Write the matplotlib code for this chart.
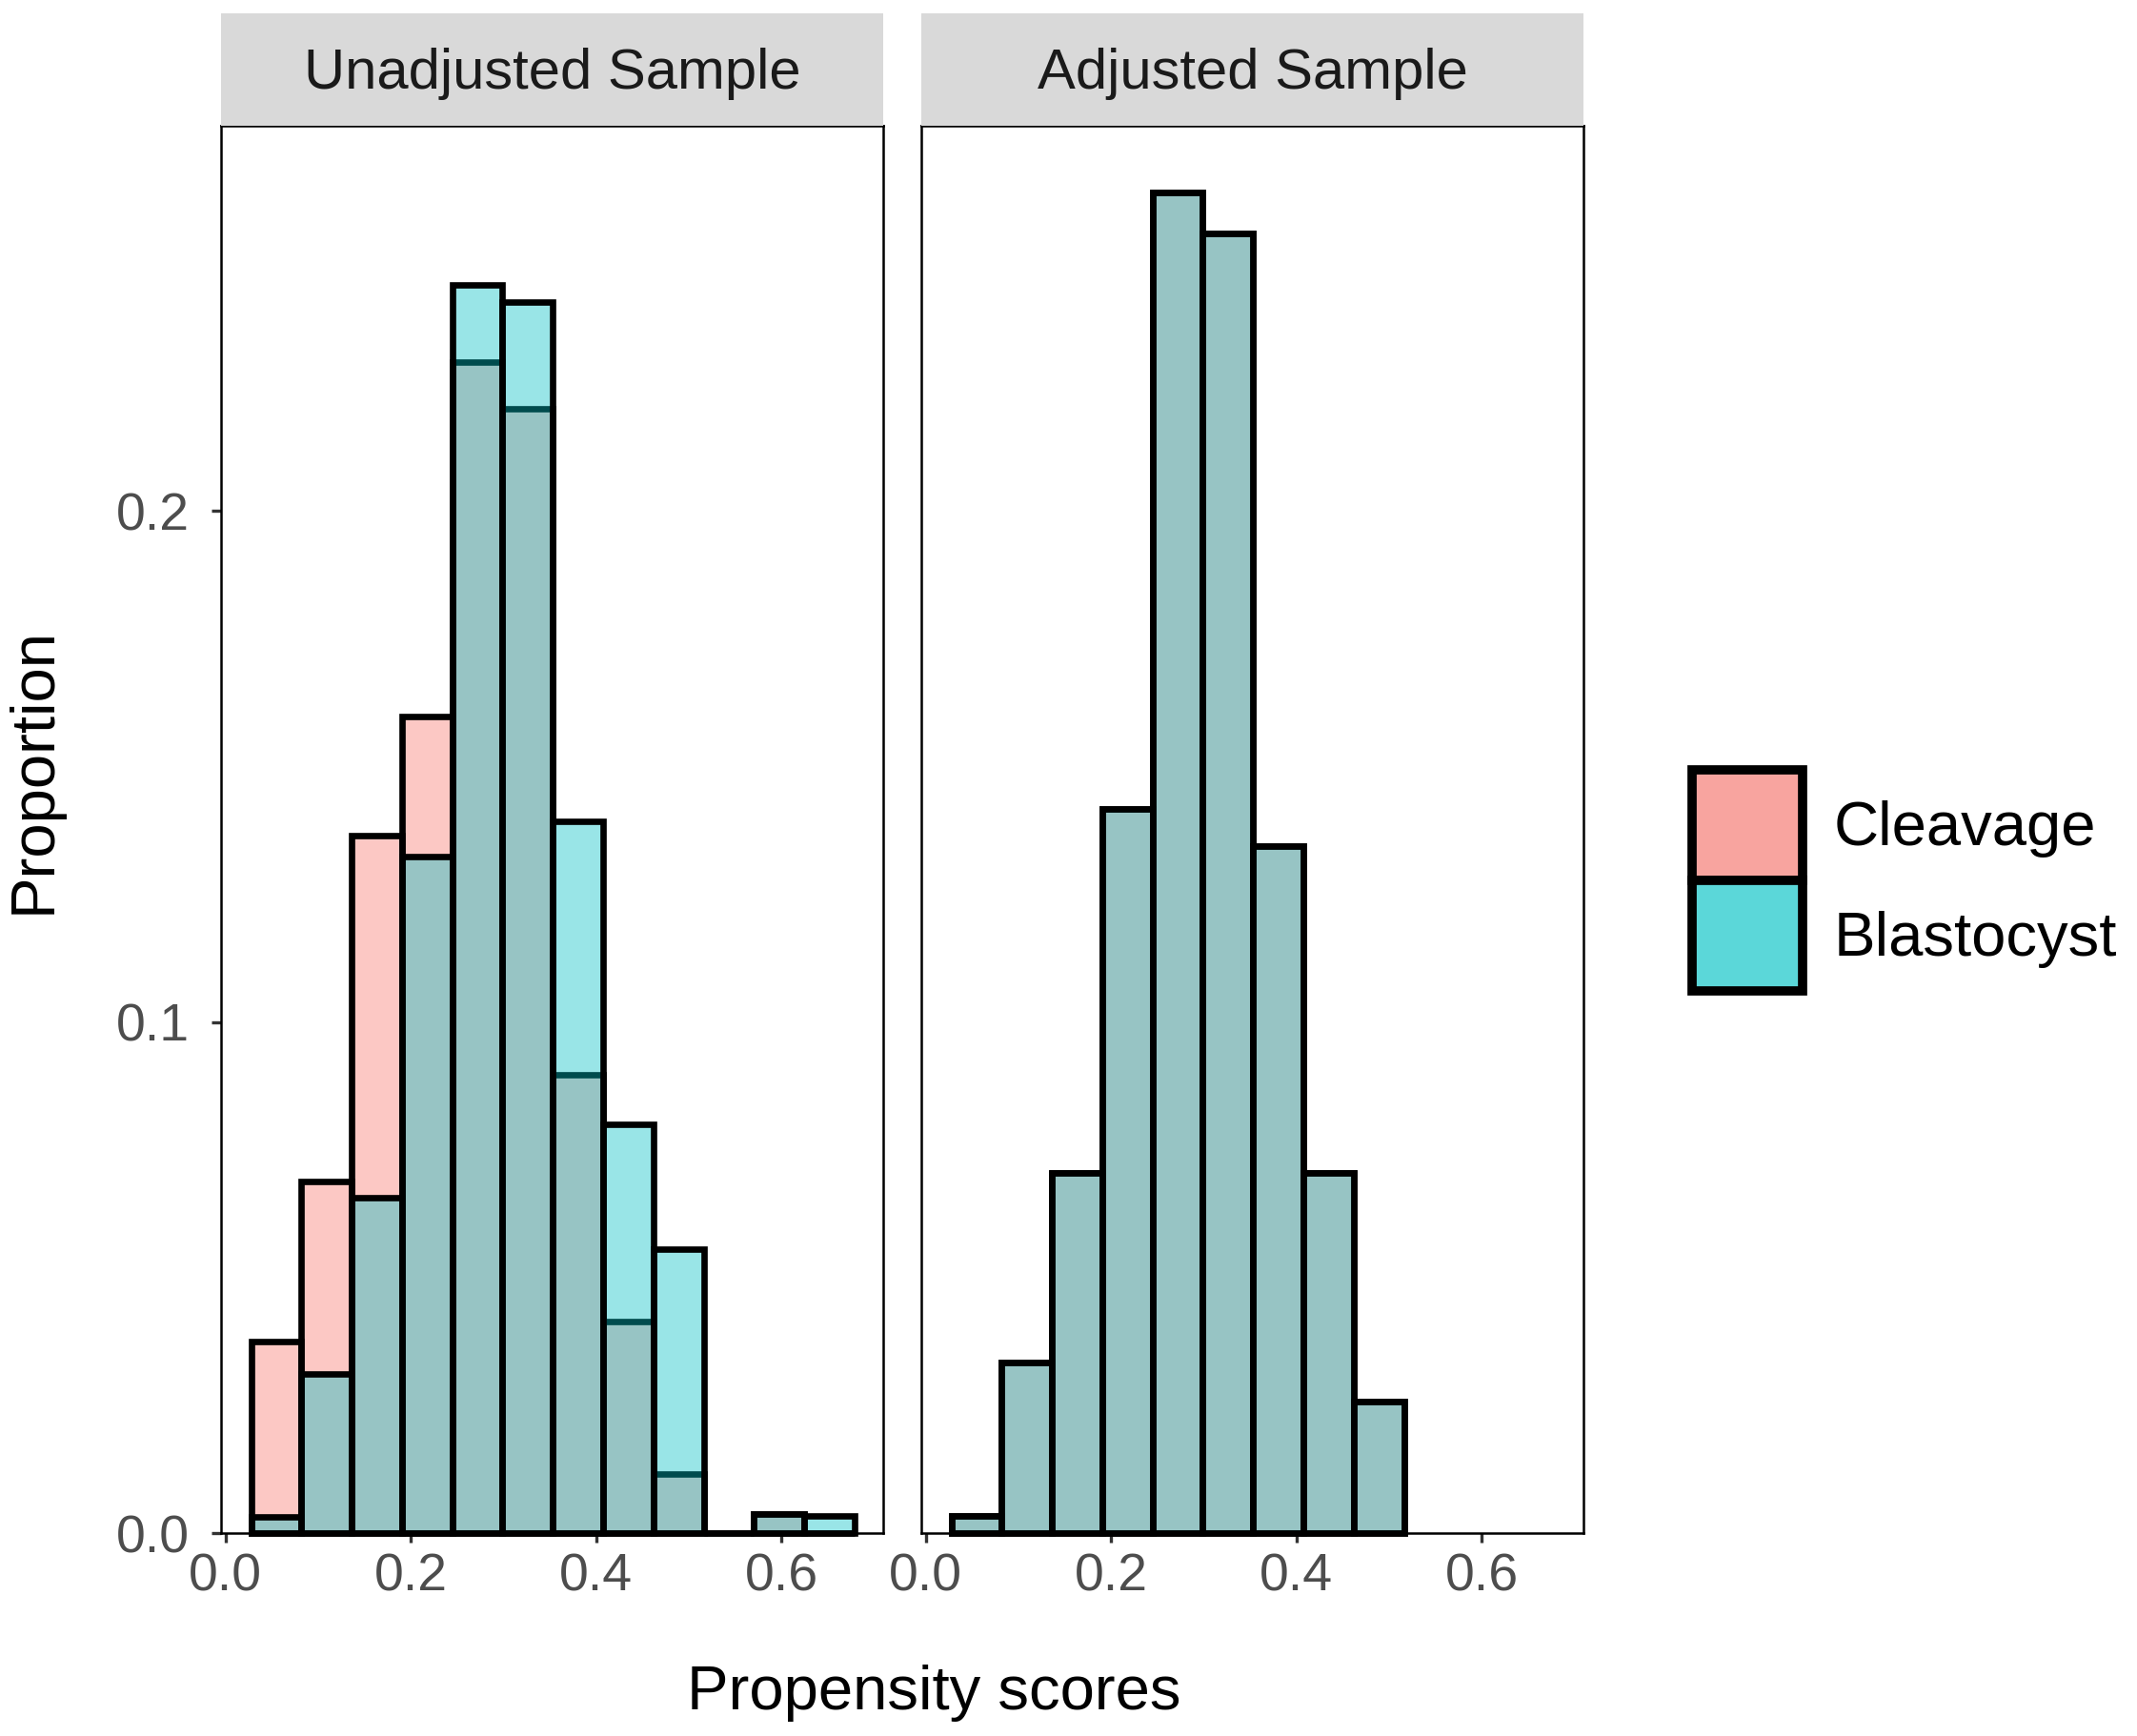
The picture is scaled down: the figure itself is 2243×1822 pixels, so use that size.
import matplotlib
matplotlib.use("Agg")
import matplotlib.pyplot as plt
from matplotlib.patches import Rectangle

plt.rcParams["font.family"] = ["Liberation Sans", "DejaVu Sans"]

# histogram bins (left edges), shared by both panels
bin_width = 0.0543
bin_left = [0.0275 + i * bin_width for i in range(12)]

# unadjusted sample proportions
unadj_cleavage = [0.0374, 0.0687, 0.1364, 0.1597, 0.2291, 0.2200,
                  0.0897, 0.0414, 0.0116, 0.0, 0.0038, 0.0]
unadj_blastocyst = [0.0032, 0.0311, 0.0657, 0.1324, 0.2441, 0.2408,
                    0.1393, 0.0799, 0.0556, 0.0, 0.0038, 0.0033]

# adjusted sample proportions (both groups overlap)
adj_cleavage = [0.0034, 0.0333, 0.0704, 0.1416, 0.2622, 0.2542,
                0.1343, 0.0704, 0.0258]
adj_blastocyst = adj_cleavage

panels = ["Unadjusted Sample", "Adjusted Sample"]
groups = ["Cleavage", "Blastocyst"]
x_ticks = [0.0, 0.2, 0.4, 0.6]
y_ticks = [0.0, 0.1, 0.2]

fill_colors = [(0.973, 0.463, 0.427, 0.4), (0.0, 0.749, 0.769, 0.4)]
key_colors = ["#F8A49F", "#5BD7D9"]

W, H = 2243, 1822
fig = plt.figure(figsize=(W / 100, H / 100), dpi=100)

def fx(px):
    return px / W

def fy(px):
    return 1 - px / H

panel_left = [232, 967]
panel_w = 695
panel_top, panel_bot = 132, 1609
strip_top = 14

data = [(unadj_cleavage, unadj_blastocyst), (adj_cleavage, adj_blastocyst)]
ymax = max(max(unadj_blastocyst), max(adj_blastocyst)) * 1.05

for k, name in enumerate(panels):
    ax = fig.add_axes([fx(panel_left[k]), fy(panel_bot),
                       panel_w / W, (panel_bot - panel_top) / H])
    for g in range(2):
        vals = data[k][g]
        ax.bar(bin_left[:len(vals)], vals, width=bin_width, align="edge",
               facecolor=fill_colors[g], edgecolor="black", linewidth=4.8,
               zorder=2 + g, clip_on=False)
    ax.set_xlim(-0.005, 0.71)
    ax.set_ylim(0, ymax)
    ax.set_xticks(x_ticks)
    ax.set_xticklabels([f"{t:.1f}" for t in x_ticks])
    ax.tick_params(axis="both", length=7, width=2.4, color="#333333",
                   labelsize=40, labelcolor="#4D4D4D")
    ax.tick_params(axis="x", pad=8)
    ax.tick_params(axis="y", pad=17)
    if k == 0:
        ax.set_yticks(y_ticks)
        ax.set_yticklabels([f"{t:.1f}" for t in y_ticks])
    else:
        ax.set_yticks([])
    for sp in ax.spines.values():
        sp.set_linewidth(1.8)
        sp.set_color("black")
        sp.set_zorder(5)

    # facet strip
    sax = fig.add_axes([fx(panel_left[k]), fy(panel_top),
                        panel_w / W, (panel_top - strip_top) / H])
    sax.set_facecolor("#D9D9D9")
    sax.set_xticks([])
    sax.set_yticks([])
    for sp in sax.spines.values():
        sp.set_visible(False)
    sax.text(0.5, 0.46, name, ha="center", va="center", fontsize=43,
             color="#1A1A1A", transform=sax.transAxes)

fig.text(fx(980), fy(1777), "Propensity scores", ha="center", va="center",
         fontsize=47, color="black")
fig.text(fx(36), fy(808), "Proportion", ha="center", va="center",
         rotation=90, fontsize=47, color="black")

# legend
key_x, key_top, key_size = 1776, 808, 116
for g, label in enumerate(groups):
    top = key_top + g * key_size
    fig.patches.append(Rectangle((fx(key_x), fy(top + key_size)),
                                 key_size / W, key_size / H,
                                 transform=fig.transFigure,
                                 facecolor=key_colors[g], edgecolor="black",
                                 linewidth=7))
    fig.text(fx(1925), fy(top + key_size / 2 + 4), label, ha="left",
             va="center", fontsize=47, color="black")

fig.savefig("out.png", dpi=100)
